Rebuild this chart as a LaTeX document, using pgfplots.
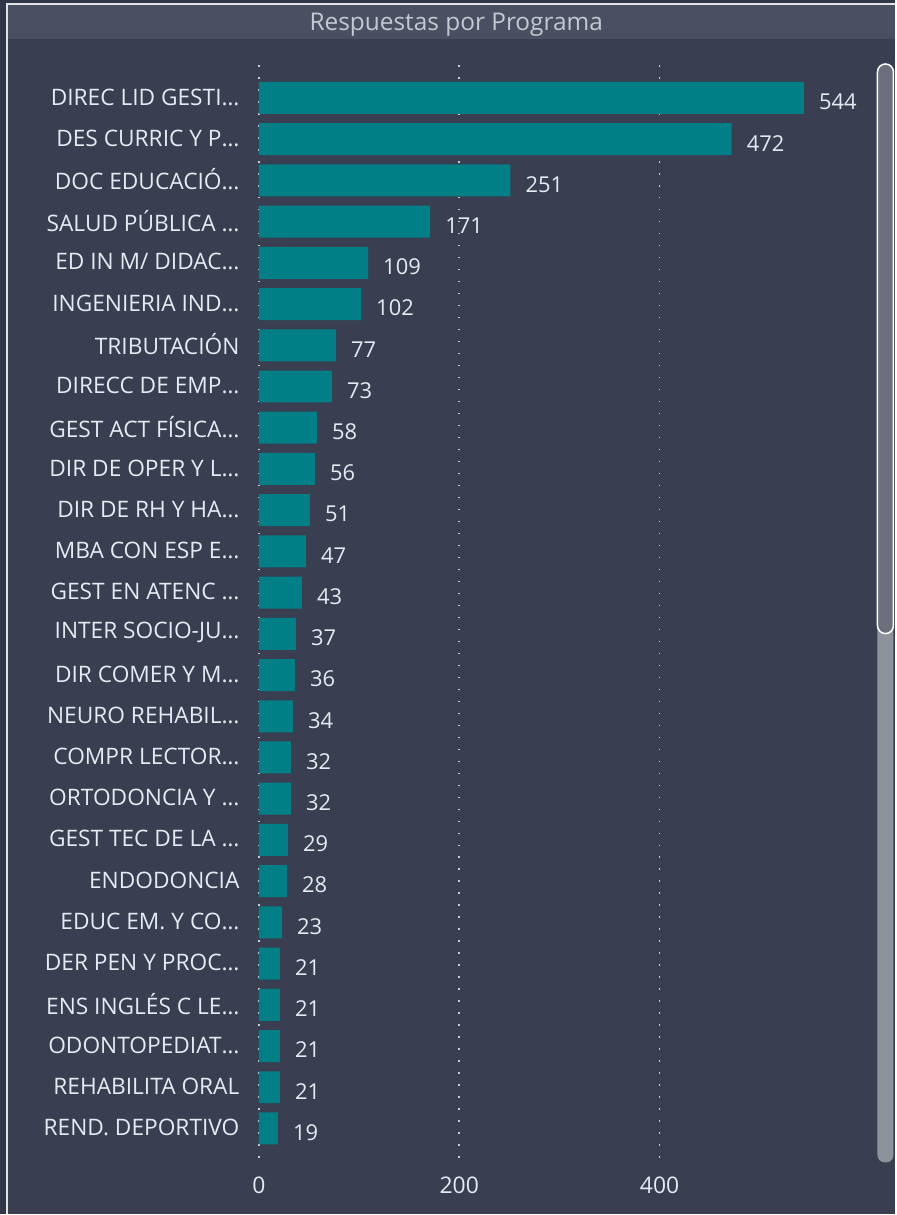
\documentclass[border=0pt]{standalone}
\usepackage{pgfplots}
\pgfplotsset{compat=1.18}
\usepackage{fontspec}
\setmainfont{Open Sans}
\definecolor{bg}{RGB}{57,62,80}
\definecolor{outer}{RGB}{46,54,72}
\definecolor{titlebar}{RGB}{74,80,98}
\definecolor{titletext}{RGB}{196,200,208}
\definecolor{txt}{RGB}{230,234,242}
\definecolor{bar}{RGB}{0,128,134}
\definecolor{gridc}{RGB}{200,204,212}
\definecolor{track}{RGB}{142,146,155}
\definecolor{thumb}{RGB}{108,112,124}
\begin{document}
\begin{tikzpicture}
\fill[outer] (0,0) rectangle (896bp,-1215bp);
\fill[bg] (7bp,-4bp) rectangle (896bp,-1215bp);
\fill[titlebar] (8bp,-5bp) rectangle (896bp,-39bp);
\draw[white!85!bg, line width=1.5bp] (7bp,-1215bp) -- (7bp,-4bp) -- (896bp,-4bp);
\node[text=titletext, font=\fontsize{24.5}{28}\selectfont] at (456.5bp,-24.5bp) {Respuestas por Programa};
% scrollbar
\fill[track, rounded corners=7bp] (878bp,-64bp) rectangle (894bp,-1163bp);
\draw[fill=thumb, draw=white, line width=1.5bp, rounded corners=8bp] (878bp,-64bp) rectangle (894bp,-634bp);
\begin{axis}[
  at={(259bp,-65bp)}, anchor=north west,
  scale only axis, width=601.5bp, height=1100bp,
  xmin=0, xmax=600, ymin=-0.8, ymax=25.87,
  y dir=reverse,
  xbar, bar width=32bp,
  axis line style={draw=none},
  major tick style={draw=none},
  /pgf/number format/assume math mode=true,
  xtick={0,200,400},
  ytick={0,...,25},
  yticklabels={DIREC LID GESTI…,DES CURRIC Y P…,DOC EDUCACIÓ…,SALUD PÚBLICA …,ED IN M/ DIDAC…,INGENIERIA IND…,TRIBUTACIÓN,DIRECC DE EMP…,GEST ACT FÍSICA…,DIR DE OPER Y L…,DIR DE RH Y HA…,MBA CON ESP E…,GEST EN ATENC …,INTER SOCIO-JU…,DIR COMER Y M…,NEURO REHABIL…,COMPR LECTOR…,ORTODONCIA Y …,GEST TEC DE LA …,ENDODONCIA,EDUC EM. Y CO…,DER PEN Y PROC…,ENS INGLÉS C LE…,ODONTOPEDIAT…,REHABILITA ORAL,REND. DEPORTIVO},
  yticklabel style={anchor=east, inner sep=0pt, xshift=-15bp, yshift=1bp, text=txt, font=\fontsize{22.8}{26}\selectfont},
  xticklabel style={anchor=base, inner sep=0pt, yshift=-29bp, text=txt, font=\fontsize{23}{26}\selectfont},
  xmajorgrids,
  grid style={gridc, line width=1.6bp, dash pattern=on 1.6bp off 10.4bp},
  nodes near coords,
  every node near coord/.append style={anchor=west, inner sep=0pt, xshift=15bp, yshift=-4bp, text=txt, font=\fontsize{22}{26}\selectfont},
]
\addplot[fill=bar, draw=none] coordinates {
(544,0) (472,1) (251,2) (171,3) (109,4) (102,5) (77,6) (73,7) (58,8) (56,9)
(51,10) (47,11) (43,12) (37,13) (36,14) (34,15) (32,16) (32,17) (29,18) (28,19)
(23,20) (21,21) (21,22) (21,23) (21,24) (19,25)};
\end{axis}
\end{tikzpicture}
\end{document}
